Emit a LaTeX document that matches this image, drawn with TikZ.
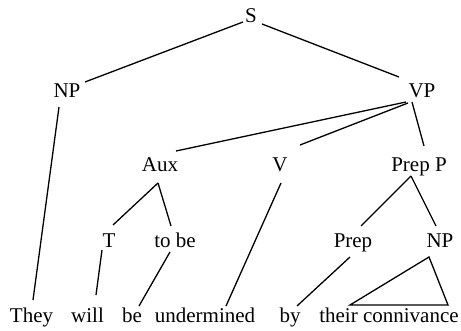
\documentclass[tikz,border=0pt]{standalone}
\usepackage{fontspec}
\setmainfont{Liberation Serif}
\usetikzlibrary{calc}
\begin{document}
\begin{tikzpicture}[x=1pt,y=-1pt,
  lab/.style={anchor=base,inner sep=0pt,font=\fontsize{21}{25}\selectfont},
  edge/.style={draw=black,line width=1.3pt}]
\useasboundingbox (0,0) rectangle (461,331);
% labels
\node[lab] (S) at (251,23) {S};
\node[lab] (NP) at (67,98) {NP};
\node[lab] (VP) at (422,98) {VP};
\node[lab] (Aux) at (160,172) {Aux};
\node[lab] (V) at (280,172) {V};
\node[lab] (PrepP) at (419,172) {Prep P};
\node[lab] (T) at (109,248) {T};
\node[lab] (tobe) at (175,248) {to be};
\node[lab] (Prep) at (353,248) {Prep};
\node[lab] (NPb) at (440,248) {NP};
\node[lab] (They) at (31.5,323) {They};
\node[lab] (will) at (87.5,323) {will};
\node[lab] (be) at (132,323) {be};
\node[lab] (und) at (205,323) {undermined};
\node[lab] (by) at (290,323) {by};
\node[lab] (tc) at (389,323) {their connivance};
% edges
\draw[edge] ($(S.base)+(-8,-1)$) -- ($(NP.base)+(18,-16)$);
\draw[edge] ($(S.base)+(11,1)$) -- ($(VP.base)+(-23,-21)$);
\draw[edge] ($(NP.base)+(-8,9)$) -- ($(They.base)+(1.5,-23)$);
\draw[edge] ($(VP.base)+(-16,4)$) -- ($(Aux.base)+(16,-21)$);
\draw[edge] ($(VP.base)+(-14,5)$) -- ($(V.base)+(20,-27)$);
\draw[edge] ($(VP.base)+(-10,4)$) -- ($(PrepP.base)+(5,-26)$);
\draw[edge] ($(Aux.base)+(-2,11)$) -- ($(T.base)+(4,-23)$);
\draw[edge] ($(Aux.base)+(-2,11)$) -- ($(tobe.base)+(-4,-22)$);
\draw[edge] ($(T.base)+(-7,2)$) -- ($(will.base)+(8.5,-28)$);
\draw[edge] ($(tobe.base)+(-5,4)$) -- ($(be.base)+(7,-17)$);
\draw[edge] ($(V.base)+(1,11)$) -- ($(und.base)+(21,-17)$);
\draw[edge] ($(PrepP.base)+(-8,4)$) -- ($(Prep.base)+(8,-22)$);
\draw[edge] ($(PrepP.base)+(-8,4)$) -- ($(NPb.base)+(-4,-22)$);
\draw[edge] ($(Prep.base)+(-3,9)$) -- ($(by.base)+(7,-17)$);
\draw[edge,line join=miter] ($(NPb.base)+(-11,9)$) -- ($(tc.base)+(-39,-18)$) -- ($(tc.base)+(59,-18)$) -- cycle;
\end{tikzpicture}
\end{document}
